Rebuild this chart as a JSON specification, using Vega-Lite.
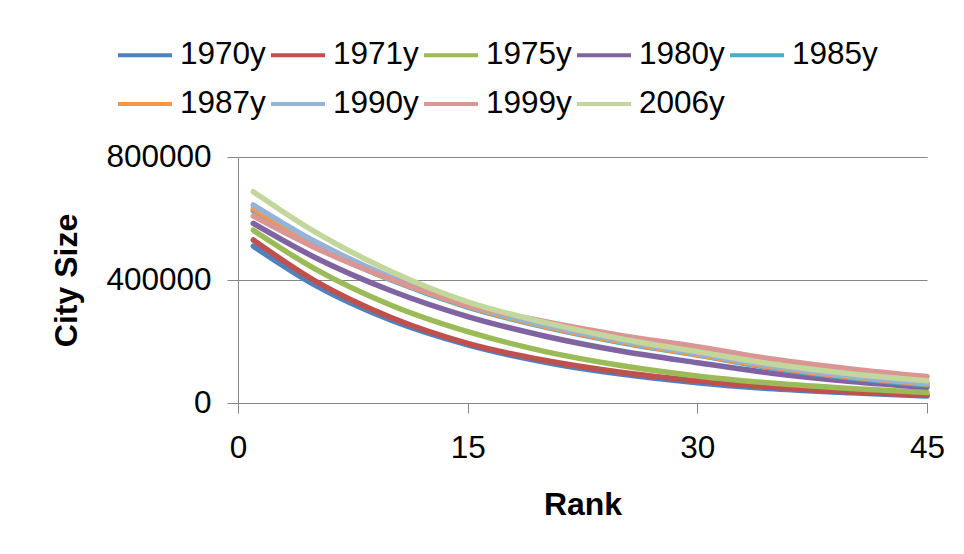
{
  "$schema": "https://vega.github.io/schema/vega-lite/v6.json",
  "width": 689,
  "height": 246,
  "autosize": {"type": "none"},
  "padding": {"left": 238, "top": 157, "right": 37, "bottom": 151},
  "background": "white",
  "config": {
    "view": {"stroke": null},
    "font": "Liberation Sans"
  },
  "data": {
    "values": [
      {"year": "1970y", "rank": 1, "size": 510000}, {"year": "1970y", "rank": 5, "size": 384000}, {"year": "1970y", "rank": 10, "size": 269000}, {"year": "1970y", "rank": 15, "size": 189000}, {"year": "1970y", "rank": 20, "size": 133000}, {"year": "1970y", "rank": 25, "size": 94000}, {"year": "1970y", "rank": 30, "size": 66000}, {"year": "1970y", "rank": 35, "size": 46000}, {"year": "1970y", "rank": 40, "size": 33000}, {"year": "1970y", "rank": 45, "size": 23000},
      {"year": "1971y", "rank": 1, "size": 530000}, {"year": "1971y", "rank": 5, "size": 398000}, {"year": "1971y", "rank": 10, "size": 278000}, {"year": "1971y", "rank": 15, "size": 194000}, {"year": "1971y", "rank": 20, "size": 139000}, {"year": "1971y", "rank": 25, "size": 100000}, {"year": "1971y", "rank": 30, "size": 72000}, {"year": "1971y", "rank": 35, "size": 51000}, {"year": "1971y", "rank": 40, "size": 36000}, {"year": "1971y", "rank": 45, "size": 25000},
      {"year": "1975y", "rank": 1, "size": 562000}, {"year": "1975y", "rank": 5, "size": 437000}, {"year": "1975y", "rank": 10, "size": 318000}, {"year": "1975y", "rank": 15, "size": 232000}, {"year": "1975y", "rank": 20, "size": 168000}, {"year": "1975y", "rank": 25, "size": 122000}, {"year": "1975y", "rank": 30, "size": 88000}, {"year": "1975y", "rank": 35, "size": 64000}, {"year": "1975y", "rank": 40, "size": 47000}, {"year": "1975y", "rank": 45, "size": 34000},
      {"year": "1980y", "rank": 1, "size": 584000}, {"year": "1980y", "rank": 5, "size": 474000}, {"year": "1980y", "rank": 10, "size": 365000}, {"year": "1980y", "rank": 15, "size": 281000}, {"year": "1980y", "rank": 20, "size": 218000}, {"year": "1980y", "rank": 25, "size": 169000}, {"year": "1980y", "rank": 30, "size": 131000}, {"year": "1980y", "rank": 35, "size": 96000}, {"year": "1980y", "rank": 40, "size": 70000}, {"year": "1980y", "rank": 45, "size": 51000},
      {"year": "1985y", "rank": 1, "size": 625000}, {"year": "1985y", "rank": 5, "size": 512000}, {"year": "1985y", "rank": 10, "size": 400000}, {"year": "1985y", "rank": 15, "size": 312000}, {"year": "1985y", "rank": 20, "size": 248000}, {"year": "1985y", "rank": 25, "size": 197000}, {"year": "1985y", "rank": 30, "size": 156000}, {"year": "1985y", "rank": 35, "size": 113000}, {"year": "1985y", "rank": 40, "size": 82000}, {"year": "1985y", "rank": 45, "size": 59000},
      {"year": "1987y", "rank": 1, "size": 631000}, {"year": "1987y", "rank": 5, "size": 518000}, {"year": "1987y", "rank": 10, "size": 404000}, {"year": "1987y", "rank": 15, "size": 315000}, {"year": "1987y", "rank": 20, "size": 250000}, {"year": "1987y", "rank": 25, "size": 199000}, {"year": "1987y", "rank": 30, "size": 158000}, {"year": "1987y", "rank": 35, "size": 116000}, {"year": "1987y", "rank": 40, "size": 85000}, {"year": "1987y", "rank": 45, "size": 62000},
      {"year": "1990y", "rank": 1, "size": 644000}, {"year": "1990y", "rank": 5, "size": 526000}, {"year": "1990y", "rank": 10, "size": 409000}, {"year": "1990y", "rank": 15, "size": 318000}, {"year": "1990y", "rank": 20, "size": 254000}, {"year": "1990y", "rank": 25, "size": 203000}, {"year": "1990y", "rank": 30, "size": 162000}, {"year": "1990y", "rank": 35, "size": 120000}, {"year": "1990y", "rank": 40, "size": 88000}, {"year": "1990y", "rank": 45, "size": 65000},
      {"year": "1999y", "rank": 1, "size": 608000}, {"year": "1999y", "rank": 5, "size": 506000}, {"year": "1999y", "rank": 10, "size": 402000}, {"year": "1999y", "rank": 15, "size": 319000}, {"year": "1999y", "rank": 20, "size": 265000}, {"year": "1999y", "rank": 25, "size": 220000}, {"year": "1999y", "rank": 30, "size": 183000}, {"year": "1999y", "rank": 35, "size": 142000}, {"year": "1999y", "rank": 40, "size": 111000}, {"year": "1999y", "rank": 45, "size": 86000},
      {"year": "2006y", "rank": 1, "size": 687000}, {"year": "2006y", "rank": 5, "size": 557000}, {"year": "2006y", "rank": 10, "size": 428000}, {"year": "2006y", "rank": 15, "size": 329000}, {"year": "2006y", "rank": 20, "size": 262000}, {"year": "2006y", "rank": 25, "size": 209000}, {"year": "2006y", "rank": 30, "size": 167000}, {"year": "2006y", "rank": 35, "size": 126000}, {"year": "2006y", "rank": 40, "size": 95000}, {"year": "2006y", "rank": 45, "size": 72000}
    ]
  },
  "mark": {"type": "line", "interpolate": "monotone", "strokeWidth": 5.5, "strokeCap": "round"},
  "encoding": {
    "x": {
      "field": "rank",
      "type": "quantitative",
      "scale": {"domain": [0, 45], "nice": false, "zero": false},
      "axis": {
        "title": "Rank",
        "values": [0, 15, 30, 45],
        "grid": false,
        "domainColor": "#868686",
        "tickColor": "#868686",
        "tickSize": 10,
        "labelFont": "Liberation Sans",
        "labelFontSize": 31.5,
        "labelColor": "black",
        "labelPadding": 19,
        "labelFlush": false,
        "titleFont": "Liberation Sans",
        "titleFontSize": 32,
        "titleFontWeight": "bold",
        "titleColor": "black",
        "titlePadding": 26
      }
    },
    "y": {
      "field": "size",
      "type": "quantitative",
      "scale": {"domain": [0, 800000], "nice": false},
      "axis": {
        "title": "City Size",
        "values": [0, 400000, 800000],
        "format": "d",
        "grid": true,
        "gridColor": "#868686",
        "domainColor": "#868686",
        "tickColor": "#868686",
        "tickSize": 11,
        "labelFont": "Liberation Sans",
        "labelFontSize": 31.5,
        "labelColor": "black",
        "labelPadding": 16,
        "titleFont": "Liberation Sans",
        "titleFontSize": 32,
        "titleFontWeight": "bold",
        "titleColor": "black",
        "titlePadding": 22
      }
    },
    "color": {
      "field": "year",
      "type": "nominal",
      "scale": {
        "domain": ["1970y", "1971y", "1975y", "1980y", "1985y", "1987y", "1990y", "1999y", "2006y"],
        "range": ["#4F81BD", "#C0504D", "#9BBB59", "#8064A2", "#4BACC6", "#F79646", "#95B3D7", "#D99694", "#C3D69B"]
      },
      "legend": {
        "title": null,
        "orient": "none",
        "direction": "horizontal",
        "legendX": -122,
        "legendY": -131,
        "columns": 5,
        "symbolType": "stroke",
        "symbolSize": 2916,
        "symbolStrokeWidth": 4,
        "labelOffset": 6,
        "columnPadding": -3,
        "rowPadding": 4,
        "labelFont": "Liberation Sans",
        "labelFontSize": 31.5,
        "labelColor": "black"
      }
    }
  }
}
